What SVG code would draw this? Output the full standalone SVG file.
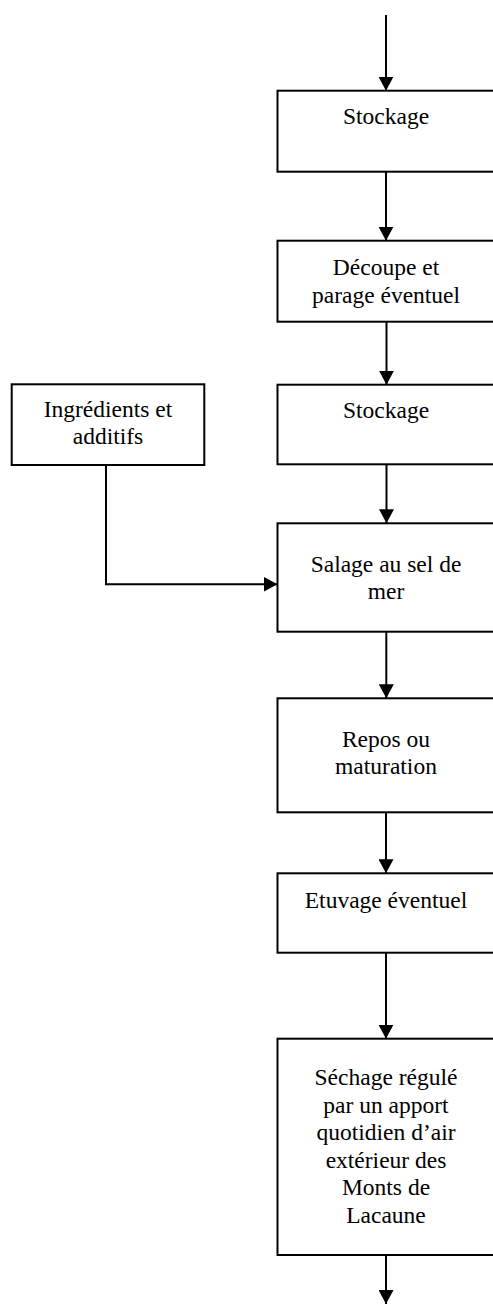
<svg xmlns="http://www.w3.org/2000/svg" width="493" height="1307" viewBox="0 0 493 1307">
<style>
.box{fill:#fff;stroke:#000;stroke-width:2}
.t{font-family:"Liberation Serif","Times New Roman",serif;font-size:23.5px;fill:#000;text-anchor:middle}
.c{fill:none;stroke:#000;stroke-width:2;marker-end:url(#ah)}
</style>
<defs>
<marker id="ah" markerUnits="userSpaceOnUse" markerWidth="15" markerHeight="15" refX="14" refY="7.5" orient="auto">
<path d="M0,0 L14,7.5 L0,15 z" fill="#000"/>
</marker>
</defs>
<rect width="493" height="1307" fill="#fff"/>
<g id="connectors">
<path class="c" d="M386,15 V90.7"/>
<path class="c" d="M386,171.7 V240.7"/>
<path class="c" d="M386.5,321.7 V384.7"/>
<path class="c" d="M386.5,464.3 V523.3"/>
<path class="c" d="M386.3,631.7 V698.3"/>
<path class="c" d="M386,812.3 V873.3"/>
<path class="c" d="M386,952.7 V1038.7"/>
<path class="c" d="M386,1255 V1304"/>
<path class="c" d="M106,465 V584.3 H277.5"/>
</g>
<g id="n1"><rect class="box" x="277.5" y="90.7" width="218" height="81"/><text class="t" x="386" y="124">Stockage</text></g>
<g id="n2"><rect class="box" x="277.5" y="240.7" width="218" height="81"/><text class="t" x="386" y="275">Découpe et</text><text class="t" x="386" y="302.5">parage éventuel</text></g>
<g id="n3"><rect class="box" x="277.5" y="384.7" width="218" height="79.6"/><text class="t" x="386" y="418.3">Stockage</text></g>
<g id="n_ing"><rect class="box" x="11.7" y="384.3" width="192.6" height="80.7"/><text class="t" x="108" y="416.7">Ingrédients et</text><text class="t" x="108" y="444.3">additifs</text></g>
<g id="n4"><rect class="box" x="277.5" y="523.3" width="218" height="108.4"/><text class="t" x="386" y="571.7">Salage au sel de</text><text class="t" x="386" y="599">mer</text></g>
<g id="n5"><rect class="box" x="277.5" y="698.3" width="218" height="114"/><text class="t" x="386" y="746.7">Repos ou</text><text class="t" x="386" y="774">maturation</text></g>
<g id="n6"><rect class="box" x="277.5" y="873.3" width="218" height="79.4"/><text class="t" x="386" y="908.3">Etuvage éventuel</text></g>
<g id="n7"><rect class="box" x="277.5" y="1038.7" width="218" height="216.3"/>
<text class="t" x="386" y="1085">Séchage régulé</text>
<text class="t" x="386" y="1112.5">par un apport</text>
<text class="t" x="386" y="1140">quotidien d’air</text>
<text class="t" x="386" y="1167.5">extérieur des</text>
<text class="t" x="386" y="1195">Monts de</text>
<text class="t" x="386" y="1222.5">Lacaune</text>
</g>
</svg>
